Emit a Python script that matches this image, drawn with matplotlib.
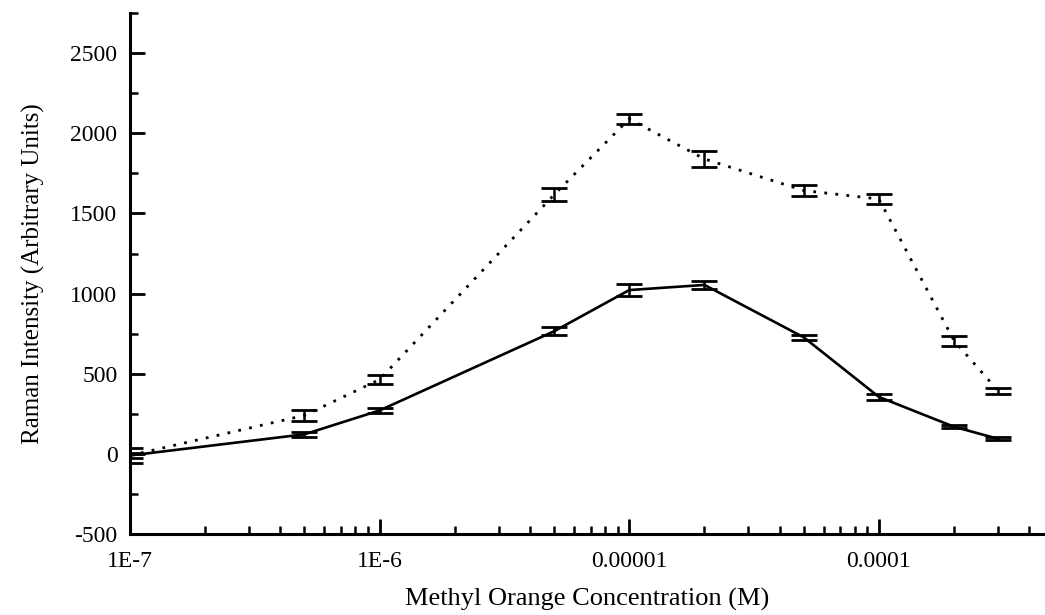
import numpy as np
import matplotlib
matplotlib.use("Agg")
import matplotlib.pyplot as plt
from matplotlib.ticker import FixedLocator, FixedFormatter, LogLocator, MultipleLocator, NullFormatter

# concentration (M)
conc = [1e-7, 5e-7, 1e-6, 5e-6, 1e-5, 2e-5, 5e-5, 1e-4, 2e-4, 3e-4]

# dotted series
upper = [-10, 240, 464, 1617, 2090, 1840, 1643, 1590, 706, 394]
upper_err = [48, 34, 28, 41, 31, 50, 34, 31, 31, 19]

# solid series
lower = [-10, 122, 271, 765, 1022, 1054, 727, 355, 169, 94]
lower_err = [16, 16, 16, 25, 37, 25, 16, 16, 10, 10]

x_ticks = [1e-7, 1e-6, 1e-5, 1e-4]
x_labels = ["1E-7", "1E-6", "0.00001", "0.0001"]

plt.rcParams['font.family'] = ['Liberation Serif', 'DejaVu Serif']
plt.rcParams['axes.unicode_minus'] = False

fig = plt.figure(figsize=(10.45, 6.15), dpi=100)
ax = fig.add_axes([0.1244, 0.1317, 0.875, 0.847])

ax.errorbar(conc, upper, yerr=upper_err, color='black', linestyle=(0, (1, 3)),
            linewidth=2, elinewidth=1.8, capsize=9.5, capthick=2)
ax.errorbar(conc, lower, yerr=lower_err, color='black', linestyle='-',
            linewidth=1.9, elinewidth=1.8, capsize=9.5, capthick=2)

ax.set_xscale('log')
ax.set_xlim(1e-7, 4.6e-4)
ax.set_ylim(-500, 2750)

ax.xaxis.set_major_locator(FixedLocator(x_ticks))
ax.xaxis.set_major_formatter(FixedFormatter(x_labels))
ax.xaxis.set_minor_locator(LogLocator(base=10, subs=np.arange(2, 10)))
ax.xaxis.set_minor_formatter(NullFormatter())

ax.yaxis.set_major_locator(FixedLocator([-500, 0, 500, 1000, 1500, 2000, 2500]))
ax.yaxis.set_minor_locator(MultipleLocator(250))

for side in ['top', 'right']:
    ax.spines[side].set_visible(False)
for side in ['left', 'bottom']:
    ax.spines[side].set_linewidth(2.2)

ax.tick_params(axis='both', which='major', direction='in', length=11, width=2,
               labelsize=17)
ax.tick_params(axis='x', which='major', pad=12)
ax.tick_params(axis='y', which='major', pad=9)
ax.tick_params(axis='both', which='minor', direction='in', length=6, width=1.8)

ax.set_xlabel("Methyl Orange Concentration (M)", fontsize=19, labelpad=12)
ax.set_ylabel("Raman Intensity (Arbitrary Units)", fontsize=18, labelpad=18)

fig.savefig("out.png", dpi=100)
